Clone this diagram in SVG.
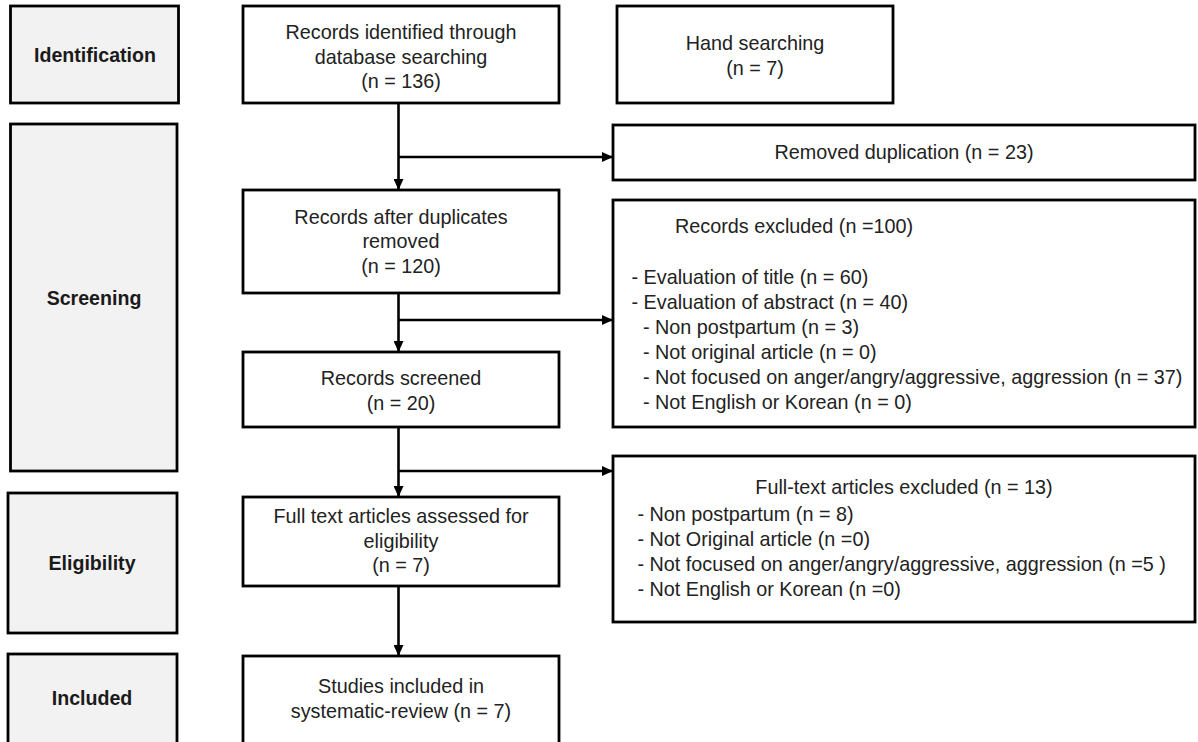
<svg xmlns="http://www.w3.org/2000/svg" width="1198" height="742" viewBox="0 0 1198 742">
<defs>
<marker id="arr" markerWidth="11" markerHeight="10" refX="11" refY="5" orient="auto" markerUnits="userSpaceOnUse">
<path d="M0,0 L11,5 L0,10 z" fill="#000"/>
</marker>
<style>
.box{fill:#fff;stroke:#000;stroke-width:2.8}
.lab{fill:#f2f2f2;stroke:#000;stroke-width:2.8}
.t{font-family:"Liberation Sans",Arial,sans-serif;font-size:19.8px;fill:#222}
.c{text-anchor:middle}
.b{font-family:"Liberation Sans",Arial,sans-serif;font-size:19.6px;font-weight:bold;fill:#1a1a1a;text-anchor:middle}
.ln{stroke:#000;stroke-width:2.6;fill:none}
</style>
</defs>
<rect width="1198" height="742" fill="#fff"/>

<g id="label-identification">
<rect class="lab" x="10.5" y="6" width="168" height="97"/>
<text class="b" x="95" y="62">Identification</text>
</g>
<g id="label-screening">
<rect class="lab" x="10.5" y="124" width="166.5" height="347"/>
<text class="b" x="94" y="305">Screening</text>
</g>
<g id="label-eligibility">
<rect class="lab" x="8" y="493" width="169" height="140"/>
<text class="b" x="92" y="570">Eligibility</text>
</g>
<g id="label-included">
<rect class="lab" x="8" y="654" width="169" height="100"/>
<text class="b" x="92" y="705">Included</text>
</g>

<g id="records-identified">
<rect class="box" x="243" y="6" width="316" height="97"/>
<text class="t c" x="401" y="39">Records identified through</text>
<text class="t c" x="401" y="63.5">database searching</text>
<text class="t c" x="401" y="88">(n = 136)</text>
</g>
<g id="hand-searching">
<rect class="box" x="617" y="6" width="276" height="97"/>
<text class="t c" x="755" y="50">Hand searching</text>
<text class="t c" x="755" y="75">(n = 7)</text>
</g>
<g id="removed-duplication">
<rect class="box" x="613" y="125" width="582" height="55"/>
<text class="t c" x="904" y="159">Removed duplication (n = 23)</text>
</g>
<g id="records-after-duplicates">
<rect class="box" x="243" y="190" width="316" height="103"/>
<text class="t c" x="401" y="223.5">Records after duplicates</text>
<text class="t c" x="401" y="248">removed</text>
<text class="t c" x="401" y="272.5">(n = 120)</text>
</g>
<g id="records-excluded">
<rect class="box" x="613" y="200" width="582" height="227"/>
<text class="t" x="675" y="233">Records excluded (n =100)</text>
<text class="t" x="631.5" y="284">- Evaluation of title (n = 60)</text>
<text class="t" x="631.5" y="309">- Evaluation of abstract (n = 40)</text>
<text class="t" x="643" y="334">- Non postpartum (n = 3)</text>
<text class="t" x="643" y="359">- Not original article (n = 0)</text>
<text class="t" x="643" y="384">- Not focused on anger/angry/aggressive, aggression (n = 37)</text>
<text class="t" x="643" y="409">- Not English or Korean (n = 0)</text>
</g>
<g id="records-screened">
<rect class="box" x="243" y="352" width="316" height="75"/>
<text class="t c" x="401" y="385">Records screened</text>
<text class="t c" x="401" y="409.5">(n = 20)</text>
</g>
<g id="fulltext-excluded">
<rect class="box" x="613" y="456" width="582" height="166"/>
<text class="t c" x="904" y="494">Full-text articles excluded (n = 13)</text>
<text class="t" x="637.5" y="520.5">- Non postpartum (n = 8)</text>
<text class="t" x="637.5" y="545.5">- Not Original article (n =0)</text>
<text class="t" x="637.5" y="570.5">- Not focused on anger/angry/aggressive, aggression (n =5 )</text>
<text class="t" x="637.5" y="595.5">- Not English or Korean (n =0)</text>
</g>
<g id="fulltext-assessed">
<rect class="box" x="243" y="497" width="316" height="89"/>
<text class="t c" x="401" y="523">Full text articles assessed for</text>
<text class="t c" x="401" y="547.5">eligibility</text>
<text class="t c" x="401" y="572">(n = 7)</text>
</g>
<g id="studies-included">
<rect class="box" x="243" y="656" width="316" height="100"/>
<text class="t c" x="401" y="693">Studies included in</text>
<text class="t c" x="401" y="717.5">systematic-review (n = 7)</text>
</g>

<g id="connectors">
<line class="ln" x1="398.5" y1="103" x2="398.5" y2="190" marker-end="url(#arr)"/>
<line class="ln" x1="398.5" y1="157" x2="613" y2="157" marker-end="url(#arr)"/>
<line class="ln" x1="398.5" y1="293" x2="398.5" y2="352" marker-end="url(#arr)"/>
<line class="ln" x1="398.5" y1="320" x2="613" y2="320" marker-end="url(#arr)"/>
<line class="ln" x1="398.5" y1="427" x2="398.5" y2="497" marker-end="url(#arr)"/>
<line class="ln" x1="398.5" y1="471" x2="613" y2="471" marker-end="url(#arr)"/>
<line class="ln" x1="398.5" y1="586" x2="398.5" y2="656" marker-end="url(#arr)"/>
</g>
</svg>
